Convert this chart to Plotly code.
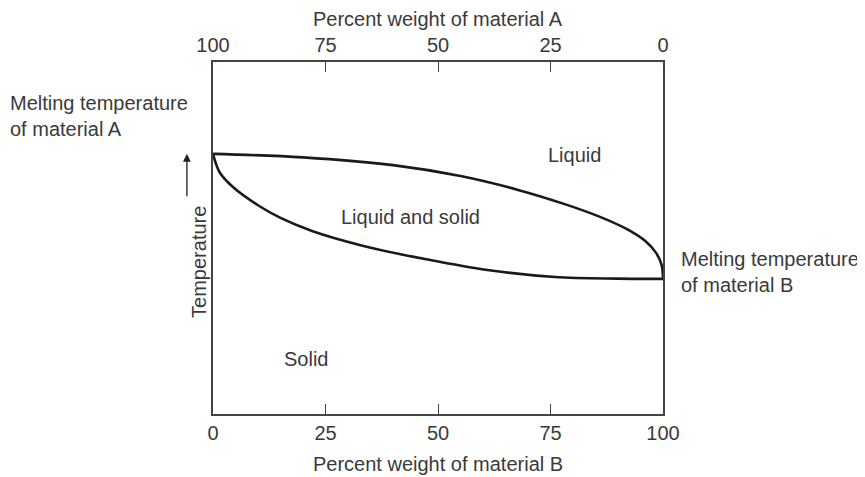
import plotly.graph_objects as go

# Data (composition in % weight of material B, temperature in arbitrary units)
liquidus_B = [0, 20, 40, 55, 68, 78, 86, 92, 96, 98.5, 99.7, 100]
liquidus_T = [73.9, 72.9, 70.7, 67.6, 63.6, 59.7, 56.0, 52.5, 49.2, 45.7, 42.3, 38.4]
solidus_B = [0, 1.5, 4.5, 10, 15, 22, 33, 48, 61, 76, 90, 100]
solidus_T = [73.9, 68.6, 64.4, 59.3, 55.7, 52.0, 47.9, 43.8, 40.9, 38.9, 38.45, 38.4]
ticks_B = [0, 25, 50, 75, 100]
ticks_A = [100, 75, 50, 25, 0]
melt_A = 73.9
melt_B = 38.4

FONT = "Liberation Sans"
TXT = "#3a3a3a"
AX = "#444444"
FS = 20

fig = go.Figure()
fig.add_trace(go.Scatter(x=liquidus_B, y=liquidus_T, mode="lines",
                         line=dict(color="#1a1a1a", width=2.6, shape="spline", smoothing=1.0),
                         showlegend=False, hoverinfo="skip"))
fig.add_trace(go.Scatter(x=solidus_B, y=solidus_T, mode="lines",
                         line=dict(color="#1a1a1a", width=2.6, shape="spline", smoothing=1.0),
                         showlegend=False, hoverinfo="skip"))
# invisible trace for top axis
fig.add_trace(go.Scatter(x=ticks_A, y=[None]*len(ticks_A), xaxis="x2", mode="markers",
                         showlegend=False, hoverinfo="skip"))

# page body has an 8px default margin: compensate so the plot lands at 213..663 x 62..414
fig.update_layout(
    width=857, height=469,
    margin=dict(l=205, r=202, t=54, b=63),
    paper_bgcolor="white", plot_bgcolor="white",
    font=dict(family=FONT, size=FS, color=TXT),
    xaxis=dict(range=[0, 100], tickvals=ticks_B, ticks="inside", ticklen=10,
               tickcolor=AX, tickwidth=1.3, showline=True, linecolor=AX, linewidth=1.5,
               showgrid=False, zeroline=False, fixedrange=True),
    xaxis2=dict(range=[100, 0], tickvals=ticks_A, overlaying="x", side="top",
                ticks="inside", ticklen=10, tickcolor=AX, tickwidth=1.3,
                showline=True, linecolor=AX, linewidth=1.5, showgrid=False,
                zeroline=False, fixedrange=True),
    yaxis=dict(range=[0, 100], showticklabels=False, ticks="", showline=True,
               mirror=True, linecolor=AX, linewidth=1.5, showgrid=False,
               zeroline=False, fixedrange=True),
)

ann = [
    dict(text="Percent weight of material A", xref="paper", yref="paper",
         x=0.5, y=1.122, yanchor="middle", showarrow=False),
    dict(text="Percent weight of material B", xref="paper", yref="paper",
         x=0.5, y=-0.142, yanchor="middle", showarrow=False),
    dict(text="Melting temperature<br>of material A", xref="paper", yref="paper",
         x=-0.456, y=0.847, xanchor="left", yanchor="middle", align="left", showarrow=False),
    dict(text="Melting temperature<br>of material B", xref="paper", yref="paper",
         x=1.036, y=0.403, xanchor="left", yanchor="middle", align="left", showarrow=False),
    dict(text="Liquid", x=80.4, y=73.6, showarrow=False),
    dict(text="Liquid and solid", x=43.8, y=56, showarrow=False),
    dict(text="Solid", x=20.6, y=15.6, showarrow=False),
    dict(text="Temperature", xref="paper", yref="paper", x=-0.060, y=0.432,
         textangle=-90, showarrow=False),
    dict(text="", xref="paper", yref="y", x=-0.058, y=melt_A, ax=0, ay=44,
         showarrow=True, arrowhead=2, arrowsize=1.2, arrowwidth=1.3, arrowcolor="#222"),
]
fig.update_layout(annotations=ann)

fig.write_html("out.html")
